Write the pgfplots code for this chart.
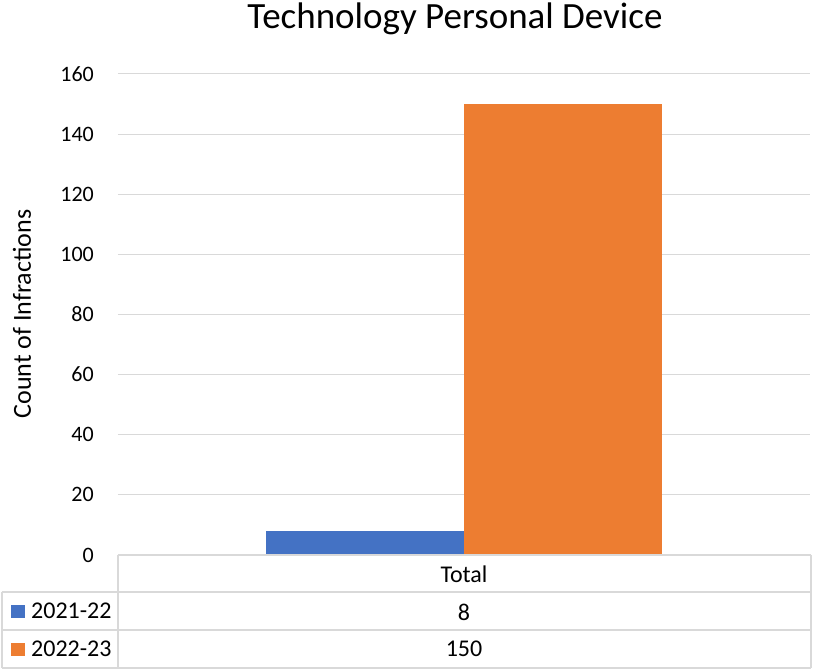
\documentclass[border=0pt]{standalone}
\usepackage{fontspec}
\setmainfont{Carlito}
\usepackage{pgfplots}
\pgfplotsset{compat=1.18}
\definecolor{sblue}{HTML}{4472C4}
\definecolor{sorange}{HTML}{ED7D31}
\definecolor{gridc}{HTML}{D9D9D9}
\newcommand{\tf}{\fontsize{22bp}{26bp}\selectfont}
\newcommand{\tbf}{\fontsize{24bp}{28bp}\selectfont}
\begin{document}
\begin{tikzpicture}[x=1bp,y=1bp]
\path[use as bounding box] (-118,-116) rectangle (700,555);
\begin{axis}[at={(0,0)}, anchor=south west,
  width=692bp, height=481bp, scale only axis,
  xmin=-0.5, xmax=0.5, ymin=0, ymax=160,
  ytick={0,20,...,160}, xtick=\empty,
  ymajorgrids, grid style={gridc, line width=1bp},
  axis line style={draw=none}, major tick length=0pt,
  /pgf/number format/assume math mode=true,
  yticklabel style={font=\tf, inner sep=0pt, anchor=east, xshift=-24bp},
  ybar=0pt, bar width=198bp, clip=false]
\addplot[fill=sblue, draw=none] coordinates {(0,8)};
\addplot[fill=sorange, draw=none] coordinates {(0,150)};
\end{axis}
\begin{scope}[gridc, line width=1.5bp]
\draw (0,0) -- (693,0);
\draw (-116,-37) -- (693,-37);
\draw (-116,-75) -- (693,-75);
\draw (-116,-113) -- (693,-113);
\draw (0,0) -- (0,-113);
\draw (693,0) -- (693,-113);
\draw (-116,-37) -- (-116,-113);
\end{scope}
\fill[sblue] (-107,-50) rectangle (-93,-63);
\fill[sorange] (-107,-88) rectangle (-93,-101);
\node[font=\tbf, anchor=west, inner sep=0pt] at (-87,-56) {2021-22};
\node[font=\tbf, anchor=west, inner sep=0pt] at (-87,-94) {2022-23};
\node[font=\tbf] at (346,-19) {Total};
\node[font=\tbf] at (346,-57) {8};
\node[font=\tbf] at (346,-94) {150};
\node[font=\fontsize{37bp}{42bp}\selectfont, anchor=base] at (337,526) {Technology Personal Device};
\node[font=\fontsize{26bp}{30bp}\selectfont, rotate=90] at (-96,241) {Count of Infractions};
\end{tikzpicture}
\end{document}
